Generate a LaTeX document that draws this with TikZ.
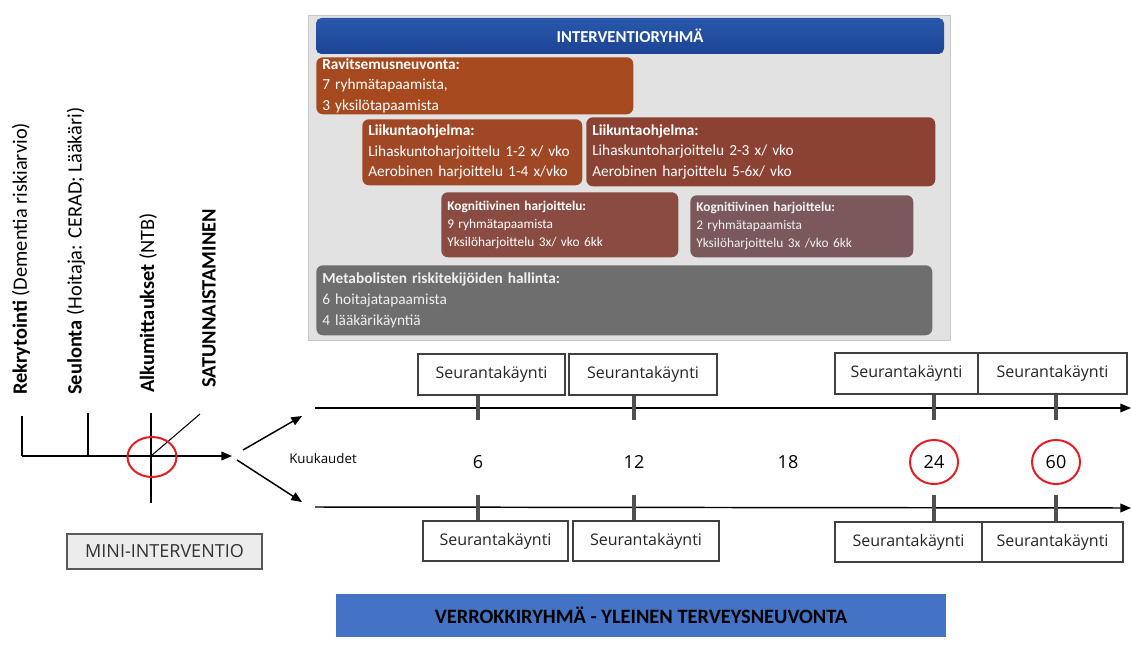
\documentclass[tikz,border=0pt]{standalone}
\usepackage{fontspec}
\setmainfont{Carlito}
\newfontfamily\uifont{Open Sans}
\usetikzlibrary{arrows.meta,shapes.geometric}

\newcommand\px{0.75pt}
\definecolor{headblue}{RGB}{28,68,148}
\definecolor{ravitc}{RGB}{166,73,30}
\definecolor{liikac}{RGB}{160,72,38}
\definecolor{liikbc}{RGB}{140,66,50}
\definecolor{kognac}{RGB}{138,76,66}
\definecolor{kognbc}{RGB}{122,88,92}
\definecolor{metac}{RGB}{110,110,110}
\definecolor{panelc}{RGB}{226,226,226}
\definecolor{boxgray}{RGB}{64,64,64}
\definecolor{tickgray}{RGB}{80,80,80}
\definecolor{ringred}{RGB}{225,30,35}
\definecolor{verrokc}{RGB}{68,114,196}

\begin{document}
\begin{tikzpicture}[x=0.75pt,y=-0.75pt,
  phase/.style={rounded corners=5pt, anchor=north west, align=left, text=white,
    inner xsep=4.5pt, inner ysep=0pt, font=\fontsize{11.5}{15.5}\selectfont},
  smallphase/.style={phase, font=\fontsize{10}{13.5}\selectfont},
  visit/.style={draw=boxgray, line width=2pt, fill=white, inner sep=0pt, text=black!85,
    font=\uifont\fontsize{12}{13}\selectfont},
  tick/.style={draw=tickgray, line width=2.6pt},
  axis/.style={line width=1.1pt, -{Triangle[length=8pt,width=6.5pt]}},
  month/.style={font=\uifont\fontsize{13.5}{14}\selectfont, inner sep=0pt},
  ring/.style={draw=ringred, line width=1.5pt, ellipse, minimum width=48*\px, minimum height=44*\px},
  stage/.style={rotate=90, anchor=west, inner sep=0pt, font=\fontsize{15.3}{17}\selectfont}]
\useasboundingbox (0,0) rectangle (1131,660);

% intervention group panel
\node[fill=panelc, draw=gray!45, anchor=north west, minimum width=642*\px, minimum height=325*\px] (panel) at (308,15) {};
\node[rounded corners=4pt, top color={rgb,255:red,40;green,88;blue,172}, bottom color=headblue, text=white,
  minimum width=628*\px, minimum height=36*\px, font=\bfseries\fontsize{12.5}{13}\selectfont] (head) at (630,36) {INTERVENTIORYHMÄ};
\node[phase, fill=ravitc, text width=305*\px, minimum height=57*\px] (ravit) at (316,57)
  {\textbf{Ravitsemusneuvonta:}\\7 ryhmätapaamista,\\3 yksilötapaamista};
\node[phase, fill=liikac, text width=208*\px, minimum height=66*\px] (liika) at (362,119)
  {\textbf{Liikuntaohjelma:}\\Lihaskuntoharjoittelu 1-2 x/ vko\\Aerobinen harjoittelu 1-4 x/vko};
\node[phase, fill=liikbc, text width=337*\px, minimum height=69*\px] (liikb) at (586,117)
  {\textbf{Liikuntaohjelma:}\\Lihaskuntoharjoittelu 2-3 x/ vko\\Aerobinen harjoittelu 5-6x/ vko};
\node[smallphase, fill=kognac, text width=225*\px, minimum height=65*\px] (kogna) at (441,192)
  {\textbf{Kognitiivinen harjoittelu:}\\9 ryhmätapaamista\\Yksilöharjoittelu 3x/ vko 6kk};
\node[smallphase, fill=kognbc, text=gray!10, text width=211*\px, minimum height=62*\px] (kognb) at (690,195)
  {\textbf{Kognitiivinen harjoittelu:}\\2 ryhmätapaamista\\Yksilöharjoittelu 3x /vko 6kk};
\node[phase, fill=metac, text=gray!12, text width=604*\px, minimum height=70*\px] (meta) at (316,265)
  {\textbf{Metabolisten riskitekijöiden hallinta:}\\6 hoitajatapaamista\\4 lääkärikäyntiä};

% start of the study
\node[stage] (rekry) at (21,395) {\textbf{Rekrytointi} (Dementia riskiarvio)};
\node[stage] (seul) at (76,395) {\textbf{Seulonta} (Hoitaja: CERAD; Lääkäri)};
\node[stage] (alkum) at (148,393) {\textbf{Alkumittaukset} (NTB)};
\node[stage] (satun) at (209,388) {\textbf{SATUNNAISTAMINEN}};
\coordinate (rek) at (22,456);
\coordinate (seu) at (88,456);
\coordinate (alku) at (151,456);
\coordinate (tlend) at (232,456);
\draw[axis] (rek) -- (tlend);
\draw[line width=0.8pt] (rek) -- ++(0,-40);
\draw[line width=0.8pt] (seu) -- ++(0,-43);
\draw[line width=0.8pt] (alku) -- ++(0,-43);
\draw[line width=0.8pt] (alku) -- ++(0,47);
\draw[line width=0.8pt] (alku) -- ++(49,-42);
\node[draw=ringred, line width=1.5pt, ellipse, minimum width=49*\px, minimum height=40*\px] (randring) at (152,457) {};
\node[draw=gray!70!black, fill=gray!15, line width=0.9pt, minimum width=195*\px, minimum height=35*\px,
  text=black!80, font=\uifont\fontsize{13.5}{14}\selectfont] (mini) at (164.5,551.5) {MINI-INTERVENTIO};

% fork into the two groups
\coordinate (forka) at (243,450);
\coordinate (forkb) at (237,460);
\coordinate (upin) at (302,416);
\coordinate (loin) at (302,502);
\draw[axis] (forka) -- (upin);
\draw[axis] (forkb) -- (loin);
\coordinate (upstart) at (315,408);
\coordinate (upend) at (1131,408);
\coordinate (lostart) at (315,507);
\coordinate (loend) at (1131,508);
\draw[axis] (upstart) -- (upend);
\draw[axis] (lostart) -- (loend);

% months
\node[font=\uifont\fontsize{10}{11}\selectfont] (kuuk) at (323,458) {Kuukaudet};
\node[month] (m6) at (478,462) {6};
\node[month] (m12) at (634,462) {12};
\node[month] (m18) at (788,462) {18};
\node[month, ring] (m24) at (934,462) {24};
\node[month, ring] (m60) at (1056,462) {60};

% follow-up visits
\node[visit, minimum width=147*\px, minimum height=41*\px] (upa) at (491.5,374.5) {Seurantakäynti};
\node[visit, minimum width=148*\px, minimum height=41*\px] (upb) at (643,374.5) {Seurantakäynti};
\node[visit, minimum width=143*\px, minimum height=41*\px] (upc) at (906.5,373.5) {Seurantakäynti};
\node[visit, minimum width=149*\px, minimum height=41*\px] (upd) at (1052.5,373.5) {Seurantakäynti};
\node[visit, minimum width=145*\px, minimum height=40*\px] (loa) at (495.5,541) {Seurantakäynti};
\node[visit, minimum width=146*\px, minimum height=40*\px] (lob) at (646,541) {Seurantakäynti};
\node[visit, minimum width=147*\px, minimum height=40*\px] (loc) at (908.5,542) {Seurantakäynti};
\node[visit, minimum width=141*\px, minimum height=40*\px] (lod) at (1052.5,542) {Seurantakäynti};
\draw[tick] (upa.south -| m6) -- ++(0,24);
\draw[tick] (upb.south -| m12) -- ++(0,24);
\draw[tick] (upc.south -| m24) -- ++(0,25);
\draw[tick] (upd.south -| m60) -- ++(0,25);
\draw[tick] (loa.north -| m6) -- ++(0,-25);
\draw[tick] (lob.north -| m12) -- ++(0,-25);
\draw[tick] (loc.north -| m24) -- ++(0,-26);
\draw[tick] (lod.north -| m60) -- ++(0,-26);

% control group
\node[fill=verrokc, minimum width=610*\px, minimum height=43*\px,
  font=\bfseries\fontsize{15.3}{16}\selectfont] (verrok) at (641,615.5) {VERROKKIRYHMÄ - YLEINEN TERVEYSNEUVONTA};
\end{tikzpicture}
\end{document}
